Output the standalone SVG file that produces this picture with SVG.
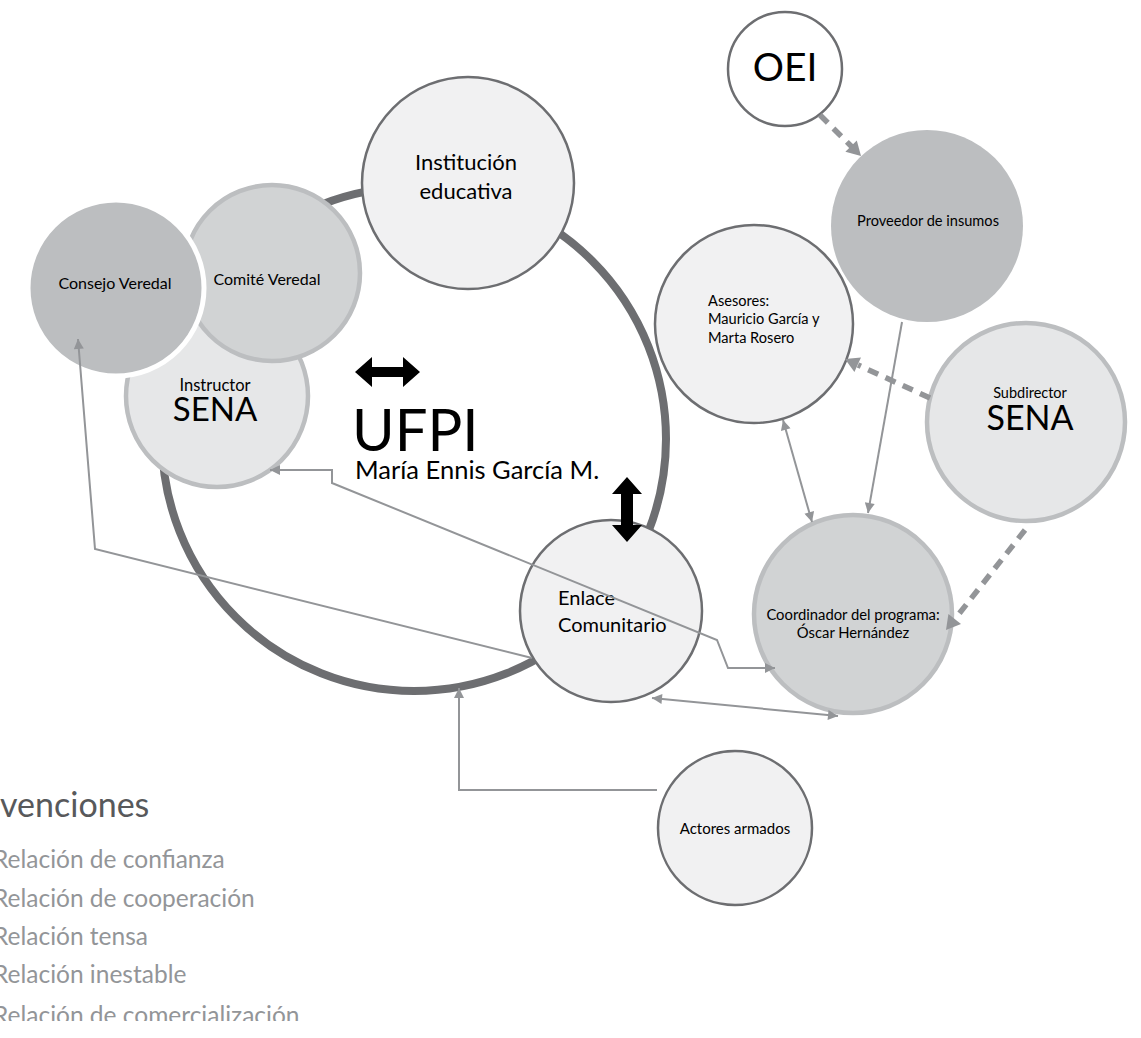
<svg xmlns="http://www.w3.org/2000/svg" width="1141" height="1038" viewBox="0 0 1141 1038">
<defs>
<style>
text{font-family:Lato,"Liberation Sans",sans-serif;fill:#000}
.dark{stroke:#6d6e71;stroke-width:2.5}
.light{stroke:#bcbec0;stroke-width:4.5}
.f1{fill:#f1f1f2}.f2{fill:#e6e7e8}.f3{fill:#d1d3d4}.f4{fill:#bcbec0}
.con{fill:none;stroke:#939598;stroke-width:2}
.dash{fill:none;stroke:#939598;stroke-width:5.5;stroke-dasharray:11 8}
.dhead{fill:#939598}
.mid{text-anchor:middle}
.leg{fill:#939598;font-size:24.5px}
</style>
<marker id="ah" viewBox="0 0 10 10" refX="10" refY="5" markerWidth="11" markerHeight="10" markerUnits="userSpaceOnUse" orient="auto-start-reverse">
<path d="M0,0 L10,5 L0,10 z" fill="#939598"/>
</marker>
<clipPath id="legclip"><rect x="-20" y="770" width="400" height="251"/></clipPath>
</defs>
<rect width="1141" height="1038" fill="#fff"/>

<g id="ring">
<circle cx="414" cy="439" r="252" fill="none" stroke="#6d6e71" stroke-width="8"/>
</g>

<g id="instructor-sena">
<circle class="light f2" cx="217" cy="396" r="91"/>
<text class="mid" x="215" y="391" font-size="16.5">Instructor</text>
<text class="mid" x="215" y="421" font-size="33">SENA</text>
</g>
<g id="comite-veredal">
<circle class="light f3" cx="272" cy="273" r="88"/>
<text class="mid" x="267" y="285" font-size="16">Comité Veredal</text>
</g>
<g id="consejo-veredal">
<circle class="f4" cx="116" cy="288" r="88" stroke="#fff" stroke-width="5"/>
<text class="mid" x="115" y="289" font-size="16">Consejo Veredal</text>
</g>
<g id="institucion-educativa">
<circle class="dark f1" cx="468" cy="183" r="106"/>
<text class="mid" x="466" y="170" font-size="22">Institución</text>
<text class="mid" x="466" y="199" font-size="22">educativa</text>
</g>
<g id="enlace-comunitario">
<circle class="dark f1" cx="611" cy="611" r="91"/>
<text x="558" y="605" font-size="20">Enlace</text>
<text x="558" y="632" font-size="20">Comunitario</text>
</g>
<g id="ufpi">
<path d="M355,372 L372,357 L372,367 L403,367 L403,357 L420,372 L403,387 L403,377 L372,377 L372,387 Z" fill="#000"/>
<text x="352" y="451" font-size="58">UFPI</text>
<text x="355" y="479" font-size="25.5">María Ennis García M.</text>
<path d="M627,477 L642,494 L633,494 L633,525 L642,525 L627,542 L612,525 L621,525 L621,494 L612,494 Z" fill="#000"/>
</g>
<g id="oei">
<circle class="dark" fill="#fff" cx="785" cy="69" r="57"/>
<text class="mid" x="785" y="81" font-size="39">OEI</text>
</g>
<g id="proveedor-insumos">
<circle class="f4" cx="927" cy="226" r="96"/>
<text class="mid" x="928" y="226" font-size="14.6">Proveedor de insumos</text>
</g>
<g id="asesores">
<circle class="dark f1" cx="754" cy="324" r="99"/>
<text x="708" y="306" font-size="14.6">Asesores:</text>
<text x="708" y="324" font-size="14.6">Mauricio García y</text>
<text x="708" y="343" font-size="14.6">Marta Rosero</text>
</g>
<g id="subdirector-sena">
<circle class="light f2" cx="1026" cy="422" r="99"/>
<text class="mid" x="1030" y="398" font-size="14.5">Subdirector</text>
<text class="mid" x="1030" y="430" font-size="34">SENA</text>
</g>
<g id="coordinador">
<circle class="light f3" cx="853" cy="614" r="99"/>
<text class="mid" x="853" y="620" font-size="14.8">Coordinador del programa:</text>
<text class="mid" x="853" y="638" font-size="14.8">Óscar Hernández</text>
</g>
<g id="actores-armados">
<circle class="dark f1" cx="735" cy="828" r="77"/>
<text class="mid" x="735" y="834" font-size="15">Actores armados</text>
</g>

<g id="connectors">
<polyline class="con" points="532,658 95,549 78,339" marker-end="url(#ah)"/>
<polyline class="con" points="270,470 332,470 332,483 717,640 728,668 775,668" marker-start="url(#ah)" marker-end="url(#ah)"/>
<line class="con" x1="652" y1="698" x2="838" y2="716" marker-start="url(#ah)" marker-end="url(#ah)"/>
<line class="con" x1="783" y1="420" x2="812" y2="522" marker-start="url(#ah)" marker-end="url(#ah)"/>
<line class="con" x1="902" y1="322" x2="868" y2="513" marker-end="url(#ah)"/>
<polyline class="con" points="657,790 459,790 459,688" marker-end="url(#ah)"/>
<line class="dash" x1="820" y1="115" x2="852" y2="147"/>
<polygon class="dhead" points="861,156 845.4,151.8 856.8,140.4"/>
<line class="dash" x1="930" y1="398" x2="858" y2="365"/>
<polygon class="dhead" points="845,359 861,357.5 854.4,372.1"/>
<line class="dash" x1="1025" y1="530" x2="955" y2="619"/>
<polygon class="dhead" points="946,630 948.4,614 961,624"/>
</g>

<g id="legend" clip-path="url(#legclip)">
<text x="0" y="817" font-size="34" style="fill:#58595b">venciones</text>
<text class="leg" x="-7" y="868">Relación de confianza</text>
<text class="leg" x="-7" y="907">Relación de cooperación</text>
<text class="leg" x="-7" y="945">Relación tensa</text>
<text class="leg" x="-7" y="983">Relación inestable</text>
<text class="leg" x="-7" y="1024">Relación de comercialización</text>
</g>
</svg>
